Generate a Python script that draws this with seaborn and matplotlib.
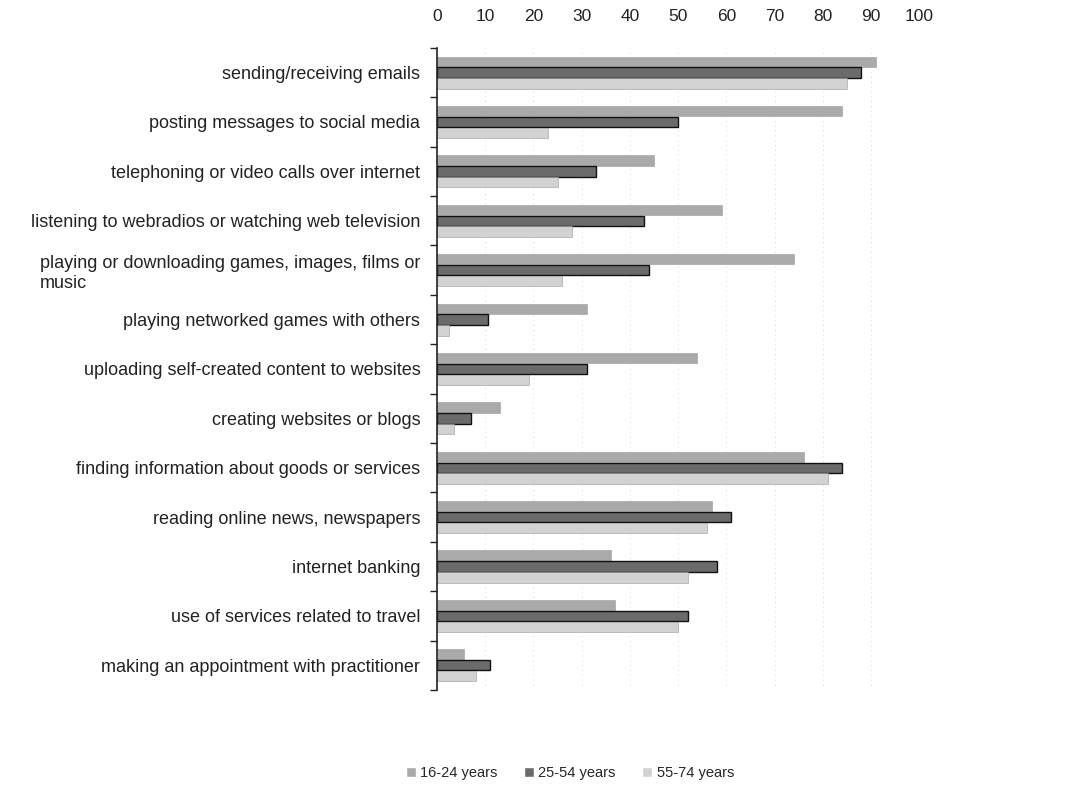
import pandas as pd
import numpy as np
import matplotlib.pyplot as plt
import seaborn as sns

# Actividades (orden de arriba a abajo)
actividades = [
    'sending/receiving emails',
    'posting messages to social media',
    'telephoning or video calls over internet',
    'listening to webradios or watching web television',
    'playing or downloading games, images, films or\nmusic',
    'playing networked games with others',
    'uploading self-created content to websites',
    'creating websites or blogs',
    'finding information about goods or services',
    'reading online news, newspapers',
    'internet banking',
    'use of services related to travel',
    'making an appointment with practitioner',
]
grupos = ['16-24 years', '25-54 years', '55-74 years']

v_16_24 = [91, 84, 45, 59, 74, 31, 54, 13, 76, 57, 36, 37, 5.5]
v_25_54 = [88, 50, 33, 43, 44, 10.5, 31, 7, 84, 61, 58, 52, 11]
v_55_74 = [85, 23, 25, 28, 26, 2.5, 19, 3.5, 81, 56, 52, 50, 8]

colores = ['#aaaaaa', '#6b6b6b', '#d2d2d2']


def main():
    df = pd.DataFrame({
        'actividad': actividades * 3,
        'grupo': np.repeat(grupos, len(actividades)),
        'valor': v_16_24 + v_25_54 + v_55_74,
    })

    sns.set_theme(style='white')
    plt.rcParams['font.family'] = ['Liberation Sans', 'DejaVu Sans']

    fig = plt.figure(figsize=(10.79, 7.85), dpi=100)
    ax = fig.add_axes([0.405, 0.121, 0.447, 0.818])

    sns.barplot(data=df, y='actividad', x='valor', hue='grupo', orient='h',
                palette=colores, width=0.66, gap=0.05, ax=ax, legend=True,
                saturation=1)

    # Borde negro en la serie intermedia
    for barra in ax.containers[1]:
        barra.set_edgecolor('#111111')
        barra.set_linewidth(1.0)
    for c in (ax.containers[0], ax.containers[2]):
        for barra in c:
            barra.set_edgecolor('#999999')
            barra.set_linewidth(0.4)

    # Eje X arriba
    ax.xaxis.tick_top()
    ax.set_xlim(0, 100)
    ax.set_xticks(range(0, 101, 10))
    ax.tick_params(axis='x', length=0, labelsize=12.5, pad=17)
    ax.set_xlabel('')
    ax.set_ylabel('')

    # Rejilla vertical tenue
    for x in range(10, 101, 10):
        ax.axvline(x, color='#d8d8d8', lw=0.7, ls=(0, (1, 4)), zorder=0)

    # Eje Y: marcas entre categorías
    n = len(actividades)
    ax.set_ylim(n - 0.5, -0.5)
    ax.set_yticks(np.arange(-0.5, n, 1.0), minor=True)
    ax.tick_params(axis='y', which='major', length=0, labelsize=13, pad=12)
    ax.tick_params(axis='y', which='minor', length=5, width=1, color='#222222',
                   direction='out', left=True)
    for lbl in ax.get_yticklabels():
        lbl.set_multialignment('left')
        lbl.set_color('#222222')
    for lbl in ax.get_xticklabels():
        lbl.set_color('#222222')

    for s in ['top', 'right', 'bottom']:
        ax.spines[s].set_visible(False)
    ax.spines['left'].set_color('#222222')
    ax.spines['left'].set_linewidth(1.2)

    # Leyenda inferior
    handles, labels = ax.get_legend_handles_labels()
    ax.get_legend().remove()
    fig.legend(handles, labels, loc='center', bbox_to_anchor=(0.528, 0.015),
               ncol=3, frameon=False, fontsize=10.5, handlelength=0.7,
               handleheight=0.7, handletextpad=0.3, columnspacing=1.8)

    fig.savefig('out.png', dpi=100)
    plt.close(fig)


if __name__ == '__main__':
    main()
